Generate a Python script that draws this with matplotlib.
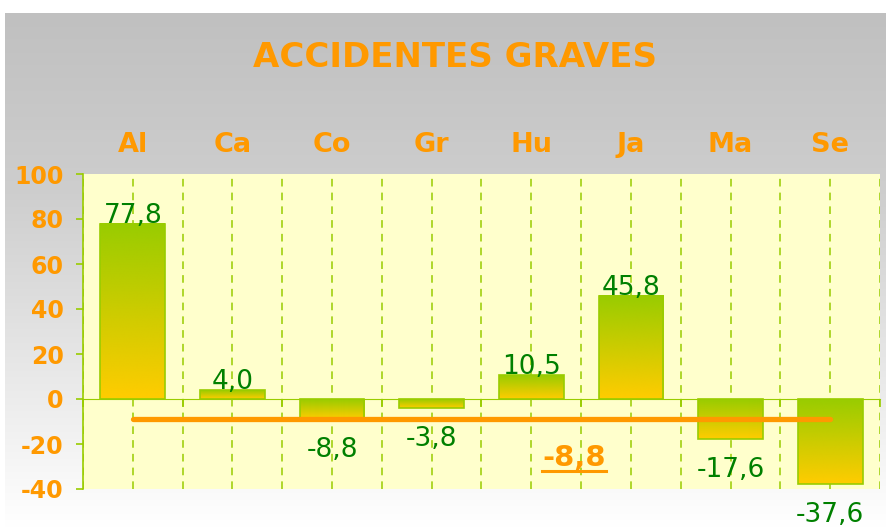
import matplotlib
matplotlib.use("Agg")
import matplotlib.pyplot as plt
import numpy as np
from matplotlib.colors import LinearSegmentedColormap
from matplotlib.lines import Line2D

plt.rcParams['axes.unicode_minus'] = False

# ----------- data ---------------#
categories = ['Al', 'Ca', 'Co', 'Gr', 'Hu', 'Ja', 'Ma', 'Se']
values = [77.8, 4.0, -8.8, -3.8, 10.5, 45.8, -17.6, -37.6]
avg_value = -8.8
avg_label = '-8,8'

ORANGE = '#FF9900'
GREEN_TXT = '#008000'
LIME = '#99CC00'
GOLD = '#FFCC00'

fig = plt.figure(figsize=(8.87, 5.28), dpi=100)
fig.patch.set_facecolor('white')

# background gradient (grey at top -> white at bottom)
bg = fig.add_axes([5 / 887, 0, 882 / 887, 515 / 528], zorder=-10)
grey = LinearSegmentedColormap.from_list('bg', [(0, '#FFFFFF'), (0.65, '#CECECE'), (1, '#C0C0C0')])
bg.imshow(np.linspace(0, 1, 256)[:, None][::-1], aspect='auto', cmap=grey, extent=[0, 1, 0, 1])
bg.set_axis_off()

ax = fig.add_axes([83 / 887, 39 / 528, 797 / 887, 315 / 528])
ax.set_facecolor('#FFFFCC')

x = np.arange(len(categories))
width = 0.65

# gradient bars: green at the top edge, gold at the bottom edge
barcmap = LinearSegmentedColormap.from_list('bar', [GOLD, LIME])
grad = np.linspace(1, 0, 100)[:, None]
for xi, v in zip(x, values):
    top, bot = max(v, 0), min(v, 0)
    ax.imshow(grad, aspect='auto', cmap=barcmap, extent=[xi - width / 2, xi + width / 2, bot, top],
              zorder=2, interpolation='bicubic')
ax.bar(x, values, width=width, facecolor='none', edgecolor=LIME, linewidth=1.2, zorder=3)

# value labels
for xi, v in zip(x, values):
    txt = f"{v:.1f}".replace('.', ',')
    if v >= 0:
        ax.annotate(txt, (xi, v), xytext=(0, 1), textcoords='offset points', ha='center',
                    va='baseline', fontsize=19, color=GREEN_TXT, zorder=5)
    else:
        ax.annotate(txt, (xi, v), xytext=(0, -13), textcoords='offset points', ha='center',
                    va='top', fontsize=19, color=GREEN_TXT, zorder=5, annotation_clip=False)

# category names above the plot area
for xi, cat in zip(x, categories):
    ax.annotate(cat, (xi, 1), xycoords=('data', 'axes fraction'), xytext=(0, 16),
                textcoords='offset points', ha='center', va='baseline', fontsize=19.5,
                fontweight='bold', color=ORANGE, annotation_clip=False)

# average line
ax.plot(x, [avg_value] * len(x), color=ORANGE, lw=3.8, solid_capstyle='round', zorder=4)
lbl = ax.text(4.43, -30, avg_label, ha='center', va='baseline', fontsize=21,
              fontweight='bold', color=ORANGE, zorder=5)

ax.set_xlim(-0.5, len(categories) - 0.5)
ax.set_ylim(-40, 100)
yt = np.arange(-40, 101, 20)
ax.set_yticks(yt)
ax.set_yticklabels([str(v) for v in yt], fontweight='bold')

# gridlines at centres and boundaries, boundary ticks on the zero line
ax.set_xticks(x)
ax.set_xticks(np.arange(-0.5, len(categories)), minor=True)
ax.tick_params(axis='x', which='major', top=False, bottom=False, labelbottom=False, length=0)
ax.tick_params(axis='x', which='minor', top=False, bottom=True, direction='out', length=6,
               color=LIME, width=1.2)

ax.tick_params(axis='y', direction='out', length=5, color=LIME, width=1.2, pad=9,
               labelsize=17, labelcolor=ORANGE)

ax.grid(axis='x', which='both', color=LIME, linestyle=(0, (5, 4)), linewidth=1.1)
ax.set_axisbelow(True)

ax.spines['bottom'].set_position(('data', 0))
ax.spines['bottom'].set_color(LIME)
ax.spines['bottom'].set_zorder(1)
ax.spines['left'].set_color(LIME)
ax.spines['left'].set_linewidth(1.2)
ax.spines['top'].set_visible(False)
ax.spines['right'].set_visible(False)

fig.text(455 / 887, 1 - 67 / 528, 'ACCIDENTES GRAVES', ha='center', va='baseline',
         fontsize=24.5, fontweight='bold', color=ORANGE)

# underline the average label
fig.canvas.draw()
bb = lbl.get_window_extent()
base_y = ax.transData.transform((0, -30))[1]
fig.add_artist(Line2D([bb.x0 / 887, bb.x1 / 887], [(base_y - 4) / 528] * 2,
                      color=ORANGE, lw=2.2, transform=fig.transFigure))

fig.savefig('out.png', dpi=100)
